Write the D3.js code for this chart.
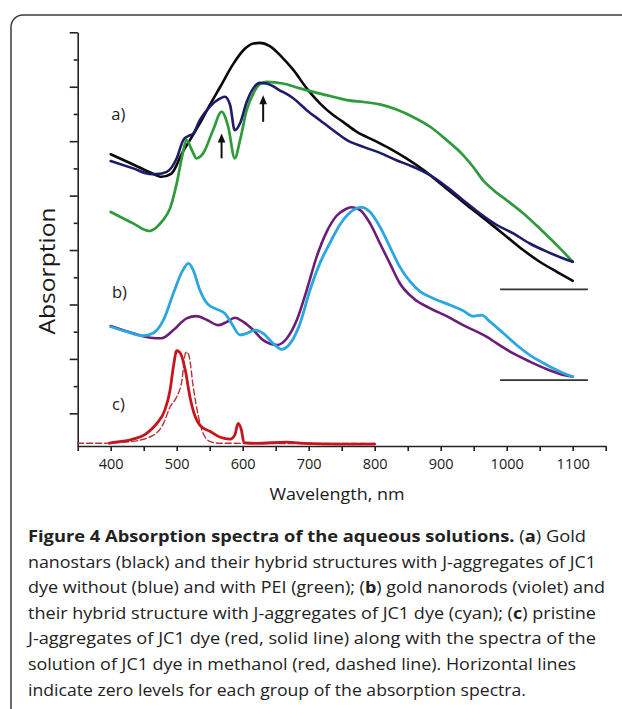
<!DOCTYPE html>
<html><head><meta charset="utf-8">
<script src="https://cdn.jsdelivr.net/npm/d3@7"></script>
<style>html,body{margin:0;padding:0;background:#fff;}svg{display:block;}</style>
</head><body>
<script>
// ---------- data (wavelength nm, absorption in arbitrary stacked units) ----------
const goldNanostars = [[400,10.52],[430,10.19],[460,9.85],[477,9.69],[492,9.81],[508,10.55],[523,11.16],[535,11.65],[550,12.32],[566,13.0],[586,13.85],[601,14.34],[616,14.59],[626,14.61],[641,14.49],[659,14.10],[677,13.61],[697,12.94],[717,12.39],[737,11.96],[752,11.71],[773,11.34],[798,11.04],[823,10.73],[848,10.37],[874,9.94],[899,9.45],[924,8.96],[949,8.47],[975,7.98],[1000,7.49],[1025,7.0],[1050,6.57],[1076,6.20],[1100,5.87]];
const hybridNoPEI = [[400,10.27],[434,10.0],[458,9.8],[470,9.79],[485,9.87],[500,10.37],[510,11.04],[517,11.18],[525,11.28],[535,11.77],[550,12.26],[566,12.57],[573,12.63],[581,12.32],[588,11.40],[596,11.66],[606,12.44],[616,12.94],[626,13.14],[636,13.12],[656,12.87],[677,12.57],[697,12.14],[717,11.77],[737,11.40],[758,11.04],[783,10.79],[808,10.57],[833,10.30],[858,10.06],[884,9.75],[909,9.32],[934,8.83],[959,8.35],[985,7.92],[1010,7.61],[1035,7.24],[1061,6.94],[1086,6.69],[1100,6.57]];
const hybridPEI = [[400,8.40],[434,7.98],[458,7.70],[470,7.85],[478,8.06],[490,8.54],[500,9.45],[508,10.42],[515,11.04],[523,10.67],[530,10.37],[540,10.55],[555,11.40],[568,12.08],[578,11.53],[588,10.37],[596,11.04],[606,12.14],[616,12.75],[626,13.09],[636,13.18],[661,13.12],[687,12.94],[707,12.81],[727,12.69],[747,12.57],[758,12.51],[783,12.44],[808,12.35],[833,12.16],[858,11.89],[884,11.53],[909,11.04],[934,10.49],[949,10.06],[964,9.57],[980,9.20],[1000,8.83],[1025,8.35],[1050,7.79],[1076,7.18],[1100,6.57]];
const nanorodHybrid = [[400,4.18],[424,4.0],[449,3.85],[464,3.94],[480,4.43],[495,5.41],[508,6.20],[518,6.51],[525,6.26],[535,5.53],[546,5.04],[561,4.82],[573,4.67],[583,4.31],[596,3.88],[606,3.94],[619,4.06],[631,3.94],[646,3.57],[659,3.35],[672,3.57],[687,4.31],[702,5.53],[717,6.52],[732,7.25],[747,7.92],[763,8.39],[780,8.57],[793,8.40],[808,7.85],[823,7.12],[838,6.38],[854,5.83],[869,5.47],[889,5.22],[914,4.98],[934,4.77],[949,4.57],[962,4.61],[975,4.36],[995,3.94],[1015,3.51],[1035,3.14],[1056,2.84],[1081,2.53],[1100,2.35]];
const goldNanorods = [[400,4.21],[434,3.94],[460,3.78],[477,3.76],[495,4.06],[515,4.49],[530,4.57],[546,4.43],[563,4.24],[576,4.36],[588,4.51],[601,4.36],[616,4.06],[631,3.69],[652,3.51],[667,3.76],[682,4.43],[697,5.53],[712,6.75],[727,7.66],[742,8.25],[755,8.49],[765,8.57],[778,8.47],[793,7.98],[808,7.24],[823,6.51],[838,5.78],[859,5.22],[884,4.86],[909,4.57],[934,4.24],[960,3.94],[970,3.81],[985,3.57],[1010,3.20],[1035,2.90],[1061,2.62],[1086,2.41],[1100,2.35]];
const jAggregates = [[398,-0.1],[402,-0.08],[429,0.02],[455,0.27],[470,0.63],[482,1.12],[490,1.86],[495,2.71],[500,3.30],[505,3.23],[513,2.59],[520,1.61],[528,0.88],[535,0.57],[551,0.33],[566,0.12],[581,0.05],[588,0.20],[593,0.63],[598,0.39],[602,-0.08],[621,-0.1],[667,-0.06],[692,-0.1],[742,-0.13],[800,-0.13]];
const dyeMethanol = [[350,-0.1],[389,-0.1],[429,-0.04],[460,0.14],[480,0.63],[490,1.24],[500,1.61],[508,2.22],[512,3.08],[515,3.26],[519,3.08],[525,1.98],[533,0.88],[540,0.27],[551,-0.04],[566,-0.1],[800,-0.11]];
const zeroLevels = [5.555, 2.22];
const zeroRange = [990, 1123];
const arrows = [[568, 10.37, 11.28], [631, 11.71, 12.69]];   // wavelength, tail, tip
const groupLabels = [["a)", 401, 11.77], ["b)", 402, 5.24], ["c)", 402, 1.12]];
const xTickValues = d3.range(350, 1151, 50);
const xTickLabels = ["400","500","600","700","800","900","1000","1100"];
const yLongTicks = [1,3,5,7,9,11,13,15];
const yShortTicks = [2,4,6,8,10,12,14];
const xTitle = "Wavelength, nm";
const yTitle = "Absorption";
const captionLines = [
  [["b","Figure 4 Absorption spectra of the aqueous solutions. "],["n","("],["b","a"],["n",") Gold"]],
  [["n","nanostars (black) and their hybrid structures with J-aggregates of JC1"]],
  [["n","dye without (blue) and with PEI (green); ("],["b","b"],["n",") gold nanorods (violet) and"]],
  [["n","their hybrid structure with J-aggregates of JC1 dye (cyan); ("],["b","c"],["n",") pristine"]],
  [["n","J-aggregates of JC1 dye (red, solid line) along with the spectra of the"]],
  [["n","solution of JC1 dye in methanol (red, dashed line). Horizontal lines"]],
  [["n","indicate zero levels for each group of the absorption spectra."]]
];
const captionWidths = [558, 568, 577, 568, 568, 548, 498];

// ---------- drawing ----------
const W = 622, H = 709;
const svg = d3.select("body").append("svg").attr("width", W).attr("height", H)
  .style("font-family", "'Open Sans','Noto Sans',sans-serif");
svg.append("rect").attr("width", W).attr("height", H).attr("fill", "#fff");

// frame
svg.append("path").attr("d", "M11,712 L11,27 A12,12 0 0 1 23,15 L625,15")
  .attr("fill", "none").attr("stroke", "#3a3a3a").attr("stroke-width", 1.5);

const x = d3.scaleLinear().domain([350, 1150]).range([77.7, 605.7]);
const y = d3.scaleLinear().domain([-0.2, 15]).range([446, 32.3]);

// y axis
const gy = svg.append("g").attr("transform", `translate(${x(350)},0)`);
gy.call(d3.axisLeft(y).tickValues(yLongTicks).tickSize(8).tickSizeOuter(0).tickFormat(""));
const gy2 = svg.append("g").attr("transform", `translate(${x(350)},0)`);
gy2.call(d3.axisLeft(y).tickValues(yShortTicks).tickSize(4).tickSizeOuter(0).tickFormat(""));
gy2.select(".domain").remove();
[gy, gy2].forEach(g => {
  g.selectAll("path,line").attr("stroke", "#222").attr("stroke-width", 1.6);
});

// x axis
const gx = svg.append("g").attr("transform", `translate(0,${y(-0.2)})`);
gx.call(d3.axisBottom(x).tickValues(xTickValues).tickSize(5).tickSizeOuter(0).tickPadding(8)
  .tickFormat(d => xTickLabels.includes(String(d)) ? String(d) : ""));
gx.selectAll("path,line").attr("stroke", "#222").attr("stroke-width", 1.6);
gx.selectAll("text").attr("font-size", 14.5).attr("fill", "#1a1a1a")
  .attr("font-family", "'Open Sans','Noto Sans',sans-serif");

// titles
svg.append("text").attr("x", 337).attr("y", 500).attr("text-anchor", "middle")
  .attr("font-size", 16.5).attr("fill", "#1a1a1a").attr("textLength", 135).attr("lengthAdjust", "spacingAndGlyphs")
  .text(xTitle);
svg.append("text").attr("transform", "translate(55,271) rotate(-90)").attr("text-anchor", "middle")
  .attr("font-size", 21).attr("fill", "#1a1a1a").attr("textLength", 127).attr("lengthAdjust", "spacingAndGlyphs")
  .text(yTitle);

// zero level lines
svg.selectAll(".zero").data(zeroLevels).join("line").attr("class", "zero")
  .attr("x1", x(zeroRange[0])).attr("x2", x(zeroRange[1]))
  .attr("y1", d => y(d)).attr("y2", d => y(d))
  .attr("stroke", "#333").attr("stroke-width", 1.6);

// curves
const line = d3.line().x(d => x(d[0])).y(d => y(d[1])).curve(d3.curveMonotoneX);
const series = [
  {data: dyeMethanol, color: "#b83238", w: 1.4, dash: "6,3"},
  {data: jAggregates, color: "#c4161c", w: 2.8},
  {data: goldNanorods, color: "#6b1e78", w: 2.6},
  {data: nanorodHybrid, color: "#2ba6e0", w: 2.8},
  {data: goldNanostars, color: "#0a0a0a", w: 2.6},
  {data: hybridPEI, color: "#2e9a3c", w: 2.7},
  {data: hybridNoPEI, color: "#1c1c6b", w: 2.6}
];
svg.selectAll(".curve").data(series).join("path").attr("class", "curve")
  .attr("d", d => line(d.data)).attr("fill", "none")
  .attr("stroke", d => d.color).attr("stroke-width", d => d.w)
  .attr("stroke-dasharray", d => d.dash || null)
  .attr("stroke-linejoin", "round").attr("stroke-linecap", "round");

// arrows
arrows.forEach(([wl, tail, tip]) => {
  const ax = x(wl), y0 = y(tail), y1 = y(tip);
  svg.append("line").attr("x1", ax).attr("x2", ax).attr("y1", y0).attr("y2", y1 + 6)
    .attr("stroke", "#111").attr("stroke-width", 2);
  svg.append("path").attr("d", `M${ax},${y1} L${ax - 3.8},${y1 + 9} L${ax + 3.8},${y1 + 9} Z`).attr("fill", "#111");
});

// group labels
svg.selectAll(".glabel").data(groupLabels).join("text").attr("class", "glabel")
  .attr("x", d => x(d[1])).attr("y", d => y(d[2])).attr("font-size", 16.5).attr("fill", "#1a1a1a")
  .text(d => d[0]);

// caption
captionLines.forEach((parts, i) => {
  const t = svg.append("text").attr("x", 28).attr("y", 542 + i * 25.6)
    .attr("font-size", 16.8).attr("fill", "#222")
    .attr("textLength", captionWidths[i]).attr("lengthAdjust", "spacingAndGlyphs");
  parts.forEach(([k, s]) => {
    t.append("tspan").attr("font-weight", k === "b" ? 700 : 400).text(s);
  });
});
</script>
</body></html>
